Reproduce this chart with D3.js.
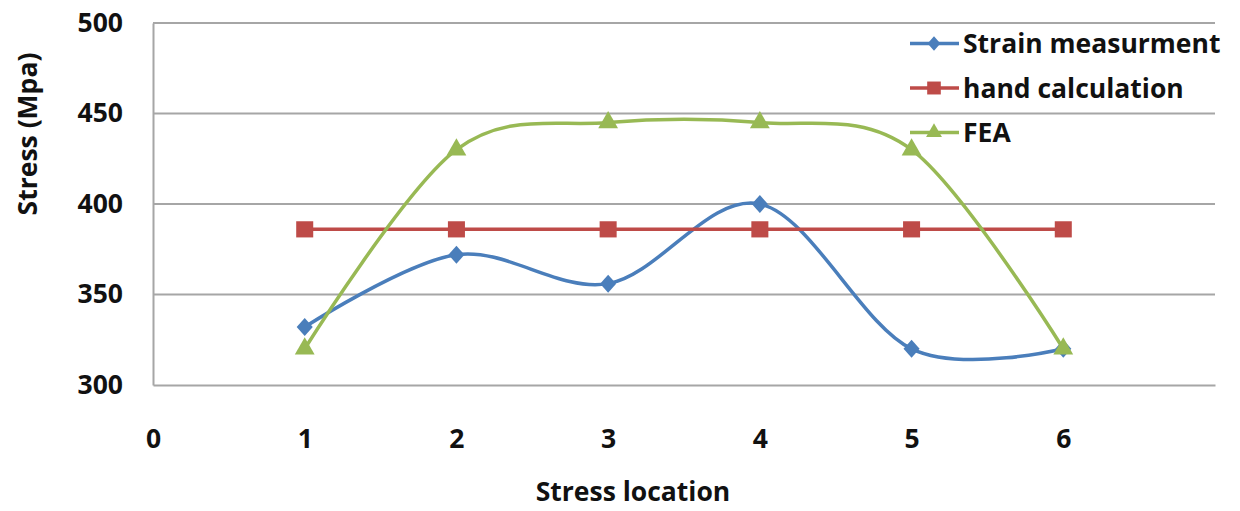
<!DOCTYPE html>
<html><head><meta charset="utf-8">
<script src="https://cdn.jsdelivr.net/npm/d3@7"></script>
<style>
html,body{margin:0;padding:0;background:#fff;}
text{font-family:"Open Sans",Lato,sans-serif;font-weight:700;fill:#111;}
</style></head>
<body><svg id="c" width="1240" height="511"></svg>
<script>
const locations = [1, 2, 3, 4, 5, 6];
const strainMeasurement = [332, 372, 356, 400, 320, 320];
const handCalculation = [386, 386, 386, 386, 386, 386];
const fea = [320, 430, 445, 445, 430, 320];
const xTicks = [0, 1, 2, 3, 4, 5, 6];
const yTicks = [300, 350, 400, 450, 500];
const seriesNames = ["Strain measurment", "hand calculation", "FEA"];
const seriesColors = ["#4A7EBB", "#BE4B48", "#98B954"];

(function () {
const svg = d3.select("#c");
const pLeft = 153, pRight = 1215, pTop = 23, pBottom = 385;
const fs = "26.5px";
const x = d3.scaleLinear().domain([0, 7]).range([pLeft, pRight]);
const y = d3.scaleLinear().domain([300, 500]).range([pBottom, pTop]);

// gridlines
svg.append("g").selectAll("line").data(yTicks.slice(1)).join("line")
  .attr("x1", pLeft).attr("x2", pRight)
  .attr("y1", d => y(d)).attr("y2", d => y(d))
  .attr("stroke", "#A6A6A6").attr("stroke-width", 2);

// y axis
const ya = svg.append("g").attr("transform", `translate(${pLeft},0)`)
  .call(d3.axisLeft(y).tickValues(yTicks).tickFormat(d3.format("d")).tickSize(0).tickPadding(30));
ya.select(".domain").attr("stroke", "#A6A6A6").attr("stroke-width", 2);
ya.selectAll("text").style("font-size", fs).style("font-family", "Open Sans").style("font-weight", 700).attr("fill", "#111");

// x axis
const xa = svg.append("g").attr("transform", `translate(0,${pBottom})`)
  .call(d3.axisBottom(x).tickValues(xTicks).tickFormat(d3.format("d")).tickSize(0).tickPadding(44));
xa.select(".domain").attr("stroke", "#A6A6A6").attr("stroke-width", 2);
xa.selectAll("text").style("font-size", fs).style("font-family", "Open Sans").style("font-weight", 700).attr("fill", "#111");

// axis titles
svg.append("text").attr("x", 633).attr("y", 501).attr("text-anchor", "middle")
  .style("font-size", fs).text("Stress location");
svg.append("text").attr("transform", "translate(37,134) rotate(-90)").attr("text-anchor", "middle")
  .style("font-size", fs).text("Stress (Mpa)");

const series = [strainMeasurement, handCalculation, fea];
const curves = [d3.curveCatmullRom.alpha(0), d3.curveLinear, d3.curveCatmullRom.alpha(0)];
const sym = [d3.symbolDiamond2, d3.symbolSquare, d3.symbolTriangle];
const symSize = [165, 290, 170];
const symScale = ["scale(1,1.12)", "scale(1,0.95)", "scale(1,1)"];

series.forEach((vals, i) => {
  const pts = locations.map((l, j) => [l, vals[j]]);
  svg.append("path").datum(pts)
    .attr("d", d3.line().x(d => x(d[0])).y(d => y(d[1])).curve(curves[i]))
    .attr("fill", "none").attr("stroke", seriesColors[i]).attr("stroke-width", 3.5);
});
series.forEach((vals, i) => {
  svg.append("g").selectAll("path").data(locations.map((l, j) => [l, vals[j]])).join("path")
    .attr("transform", d => `translate(${x(d[0])},${y(d[1])}) ${symScale[i]}`)
    .attr("d", d3.symbol().type(sym[i]).size(symSize[i]))
    .attr("fill", seriesColors[i]);
});

// legend
const lg = svg.append("g");
const rowY = [43.5, 88, 132.5];
seriesNames.forEach((n, i) => {
  const ly = rowY[i];
  lg.append("line").attr("x1", 910).attr("x2", 959).attr("y1", ly).attr("y2", ly)
    .attr("stroke", seriesColors[i]).attr("stroke-width", 3.5);
  lg.append("path").attr("transform", `translate(934,${ly}) ${symScale[i]} scale(0.8)`)
    .attr("d", d3.symbol().type(sym[i]).size(symSize[i])).attr("fill", seriesColors[i]);
  lg.append("text").attr("x", 963).attr("y", ly + 9.5).style("font-size", fs).text(n);
});
})();
</script></body></html>
